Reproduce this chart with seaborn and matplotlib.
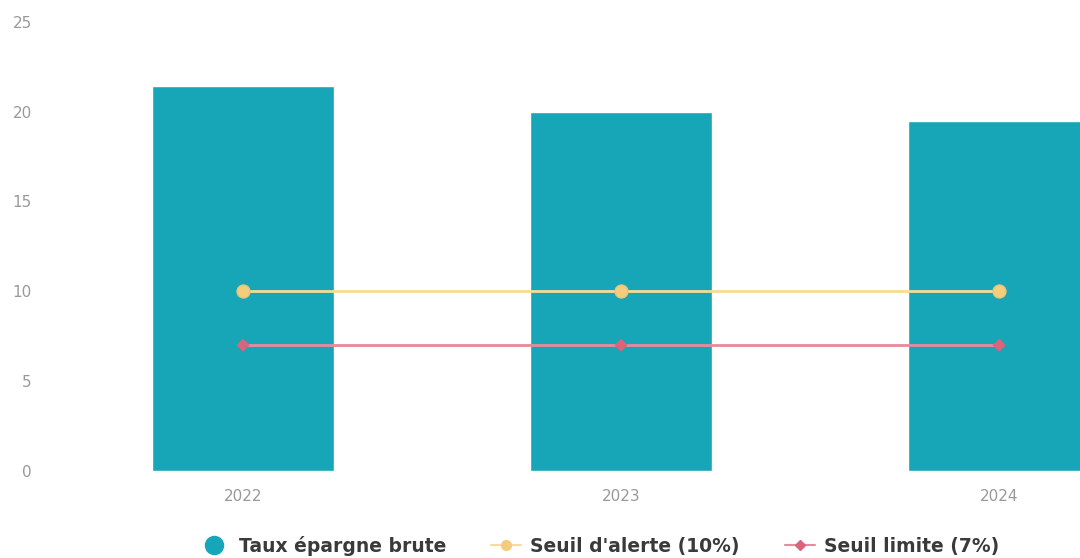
import numpy as np
import pandas as pd
import matplotlib
matplotlib.use("Agg")
import matplotlib.pyplot as plt
from matplotlib.lines import Line2D
import seaborn as sns


years = ["2022", "2023", "2024"]
taux_epargne = [21.4, 20.0, 19.5]
seuil_alerte = [10, 10, 10]
seuil_limite = [7, 7, 7]
y_ticks = [0, 5, 10, 15, 20, 25]

TEAL = "#17a6b8"
YELLOW_LINE = "#f7dc93"
YELLOW_MARK = "#f3cd7c"
PINK_LINE = "#e98a9c"
PINK_MARK = "#d9647c"

sns.set_theme(style="white")
plt.rcParams["font.family"] = ["DejaVu Sans"]

fig = plt.figure(figsize=(10.8, 5.58), dpi=100)
ax = fig.add_axes([0.05, 0.156, 0.95, 0.805])

df = pd.DataFrame({"annee": years, "taux": taux_epargne,
                   "alerte": seuil_alerte, "limite": seuil_limite})

sns.barplot(data=df, x="annee", y="taux", color=TEAL, width=0.48,
            saturation=1, ax=ax, zorder=1)

ax.plot(range(len(years)), df["alerte"], color=YELLOW_LINE, lw=2, zorder=2)
ax.plot(range(len(years)), df["limite"], color=PINK_LINE, lw=2, zorder=2)
ax.scatter(range(len(years)), df["alerte"], s=90, color=YELLOW_MARK,
           edgecolor="#e9c27a", linewidth=0.8, zorder=3)
ax.scatter(range(len(years)), df["limite"], s=45, marker="D", color=PINK_MARK,
           edgecolor="none", zorder=3)

ax.set_xlim(-0.5, 2.214)
ax.set_ylim(0, 25)
ax.set_yticks(y_ticks)
ax.set_xlabel("")
ax.set_ylabel("")
for s in ax.spines.values():
    s.set_visible(False)
ax.tick_params(axis="y", labelsize=11, labelcolor="#999999", length=0, pad=16)
ax.tick_params(axis="x", labelsize=11, labelcolor="#999999", length=0, pad=13)

handles = [
    Line2D([], [], marker="o", ls="none", color=TEAL, markersize=13),
    Line2D([], [], marker="o", color=YELLOW_LINE, markerfacecolor=YELLOW_MARK,
           markeredgecolor=YELLOW_MARK, markersize=7, lw=1.5),
    Line2D([], [], marker="D", color=PINK_LINE, markerfacecolor=PINK_MARK,
           markeredgecolor=PINK_MARK, markersize=5, lw=1.5),
]
labels = ["Taux épargne brute", "Seuil d'alerte (10%)", "Seuil limite (7%)"]
fig.legend(handles, labels, loc="center", bbox_to_anchor=(0.555, 0.022),
           ncol=3, frameon=False, handlelength=1.6, columnspacing=2.4,
           handletextpad=0.5, prop={"size": 13.5, "weight": "bold"},
           labelcolor="#3a3a3a")

fig.savefig("out.png", dpi=100, facecolor="white")
